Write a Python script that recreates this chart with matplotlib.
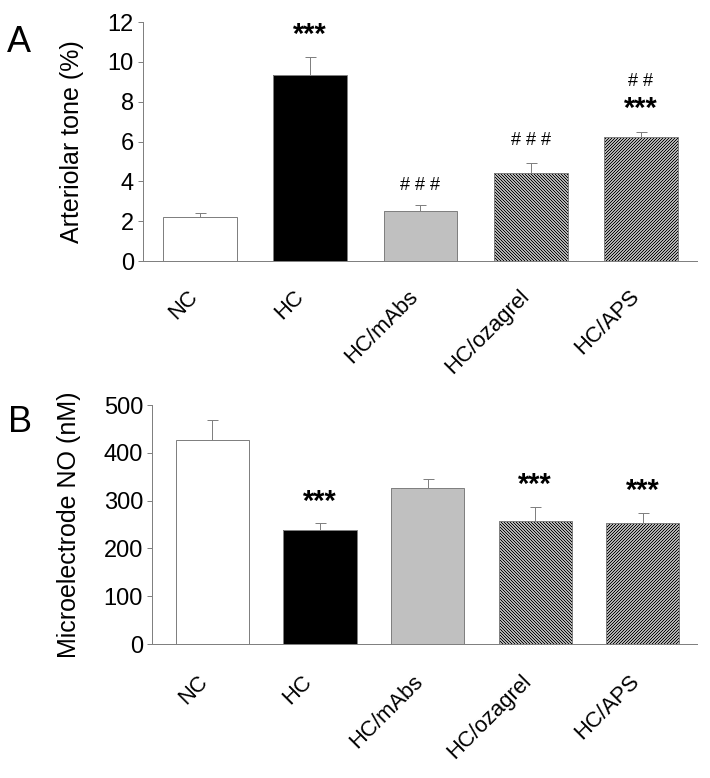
import numpy as np
import matplotlib
matplotlib.use('Agg')
import matplotlib.pyplot as plt

# at 72 dpi one point is one pixel; 48 hatch lines per 72 px cell give a clean 3 px stripe period
DPI = 72
plt.rcParams['font.family'] = ['Liberation Sans', 'DejaVu Sans']
plt.rcParams['hatch.linewidth'] = 1.1

groups = ['NC', 'HC', 'HC/mAbs', 'HC/ozagrel', 'HC/APS']

# panel A: arteriolar tone (%)
tone_mean = [2.2, 9.35, 2.5, 4.42, 6.23]
tone_err = [0.2, 0.9, 0.3, 0.48, 0.27]
tone_star = ['', '***', '', '', '***']
tone_hash = ['', '', '# # #', '# # #', '# #']

# panel B: microelectrode NO (nM)
no_mean = [427, 238, 326, 257, 253]
no_err = [42, 15, 19, 29, 21]
no_star = ['', '***', '', '***', '***']

fills = ['white', 'black', '#c0c0c0', 'white', 'white']
hatches = ['', '', '', '\\' * 8, '/' * 8]
GRAY = '#808080'


def draw_panel(ax, means, errs, stars, hashes, ylim, yticks, ylabel, xlim, width,
               star_off, hash_off, label_shift, label_drop):
    '''bar panel with one-sided error bars and significance marks'''
    x = np.arange(len(means))
    #filled / hatched bars
    bars = ax.bar(x, means, width, color=fills, edgecolor='black', linewidth=0, zorder=2)
    for b, h in zip(bars, hatches):
        if h:
            b.set_hatch(h)
    #gray outlines on top
    ax.bar(x, means, width, fill=False, edgecolor=GRAY, linewidth=1, zorder=3)
    ax.errorbar(x, means, yerr=[np.zeros(len(errs)), errs], fmt='none', ecolor=GRAY,
                elinewidth=1, capsize=5.5, capthick=1, zorder=1)
    #significance marks
    for i in range(len(means)):
        top = means[i] + errs[i]
        if stars[i]:
            ax.annotate(stars[i], (x[i], top), xytext=(0, star_off[i]), textcoords='offset points',
                        ha='center', va='baseline', fontsize=29, fontweight='bold')
        if hashes[i]:
            ax.annotate(hashes[i], (x[i], top), xytext=(0, hash_off[i]), textcoords='offset points',
                        ha='center', va='baseline', fontsize=18)
    #group labels, rotated, ending just left of the bar centre
    for i, name in enumerate(groups):
        ax.annotate(name, (x[i], 0), xycoords=('data', 'axes fraction'),
                    xytext=(label_shift[i], -label_drop), textcoords='offset points',
                    rotation=45, ha='right', va='top', rotation_mode='anchor', fontsize=22)
    #axes styling
    ax.set_xlim(*xlim)
    ax.set_ylim(*ylim)
    ax.set_yticks(yticks)
    ax.set_xticks([])
    ax.tick_params(axis='y', length=5, width=1, color=GRAY, labelsize=23.6, pad=4)
    for side in ['top', 'right']:
        ax.spines[side].set_visible(False)
    for side in ['left', 'bottom']:
        ax.spines[side].set_color(GRAY)
        ax.spines[side].set_linewidth(1)
    ax.set_ylabel(ylabel, fontsize=25)
    return None


fig = plt.figure(figsize=(710 / DPI, 778 / DPI), dpi=DPI)
ax1 = fig.add_axes([0.2014, 0.6645, 0.7803, 0.3072])
ax2 = fig.add_axes([0.2141, 0.1722, 0.7676, 0.3072])

draw_panel(ax1, tone_mean, tone_err, tone_star, tone_hash, (0, 12), np.arange(0, 13, 2),
           'Arteriolar tone (%)', (-0.517, 4.508), 0.67,
           [14, 14, 14, 14, 15], [0, 0, 15, 18, 46], [-13, -17, -13, -12, -12], 25)
ax1.yaxis.set_label_coords(-0.106, 0.5)

draw_panel(ax2, no_mean, no_err, no_star, ['', '', '', '', ''], (0, 500), np.arange(0, 501, 100),
           'Microelectrode NO (nM)', (-0.562, 4.503), 0.68,
           [13, 13, 13, 14, 14], [0, 0, 0, 0, 0], [-15, -19, -15, -14, -14], 27)
ax2.yaxis.set_label_coords(-0.130, 0.5)

fig.text(0.01, 0.933, 'A', fontsize=36)
fig.text(0.011, 0.445, 'B', fontsize=36)

plt.savefig('out.png', dpi=DPI)
